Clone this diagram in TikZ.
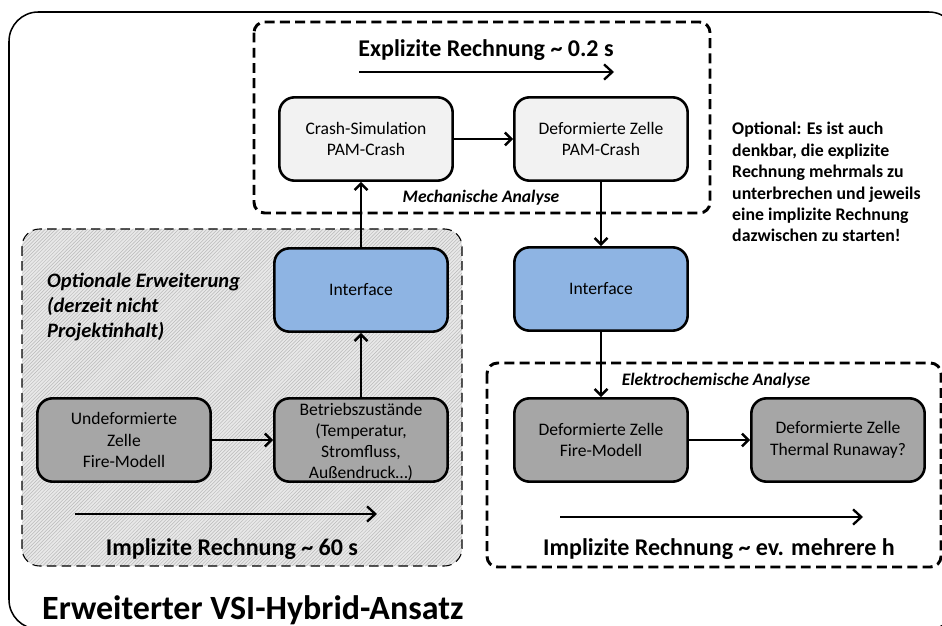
\documentclass[tikz,border=0pt]{standalone}
\usepackage{fontspec}
\setmainfont{Carlito}
\usetikzlibrary{arrows.meta,patterns}

\definecolor{boxlight}{HTML}{F2F2F2}
\definecolor{boxgray}{HTML}{A6A6A6}
\definecolor{boxblue}{HTML}{8EB4E3}
\definecolor{hatchbg}{HTML}{E8E8E8}

\begin{document}
\begin{tikzpicture}[x=0.03cm,y=-0.03cm,
    box/.style={draw,line width=2.2pt,rounded corners=13pt,minimum width=5.2cm,minimum height=2.5cm,
      align=center,font=\fontsize{15}{18.7}\selectfont},
    light/.style={box,fill=boxlight},
    darkbox/.style={box,fill=boxgray},
    iface/.style={box,fill=boxblue},
    flow/.style={-{Straight Barb[length=5.5pt,width=11pt]},line width=2pt},
    timeline/.style={-{Straight Barb[length=7pt,width=13pt]},line width=2pt},
    group/.style={line width=2.5pt,dash pattern=on 8.5pt off 4.5pt,rounded corners=9pt},
    optgroup/.style={line width=0.9pt,dash pattern=on 8pt off 4.5pt,rounded corners=15pt},
    title/.style={font=\bfseries\fontsize{20.5}{24}\selectfont},
    analysis/.style={font=\bfseries\itshape\fontsize{15}{18}\selectfont},
  ]

        \useasboundingbox (0,0) rectangle (942,626);
        \clip (0,0) rectangle (942,626);

        \draw[line width=1.3pt,rounded corners=25pt] (9,12) rectangle (958,629);

        % Gruppen
        \path[optgroup,preaction={fill=hatchbg},pattern=north east lines,pattern color=gray!55] (22,229) rectangle (462,566);
        \draw[optgroup] (22,229) rectangle (462,566);
        \draw[group] (254,22) rectangle (710,213);
        \draw[group] (487,363) rectangle (941,567);

        \node[title] (explizit) at (486,50) {Explizite Rechnung \textasciitilde{} 0.2 s};
        \coordinate (e1) at (359,72);
        \coordinate (e2) at (614,72);
        \draw[timeline] (e1) -- (e2);

        \node[light] (crash) at (366,139) {Crash-Simulation\\PAM-Crash};
        \node[light] (defpam) at (601,139) {Deformierte Zelle\\PAM-Crash};
        \node[analysis] (mech) at (481,198) {Mechanische Analyse};

        \node[anchor=north west,inner sep=0pt,align=left,font=\bfseries\fontsize{15.2}{18.3}\selectfont] (hinweis) at (732,122)
            {Optional: Es ist auch\\denkbar, die explizite\\Rechnung mehrmals zu\\unterbrechen und jeweils\\eine implizite Rechnung\\dazwischen zu starten!};

        \node[anchor=north west,inner sep=0pt,align=left,font=\bfseries\itshape\fontsize{17.5}{21.3}\selectfont] (erweiterung) at (47,273)
            {Optionale Erweiterung\\(derzeit nicht\\Projektinhalt)};

        \node[iface] (ifl) at (361,290) {Interface};
        \node[iface] (ifr) at (601,289) {Interface};

        \node[darkbox] (undef) at (124,440) {Undeformierte\\Zelle\\Fire-Modell};
        \node[darkbox] (betr) at (361,440) {};
        \node[inner sep=0pt,align=center,font=\fontsize{15}{18}\selectfont] (betrtext) at (361,442)
            {Betriebszustände\\(Temperatur,\\Stromfluss,\\Außendruck…)};

        \node[analysis] (elektro) at (716,381) {Elektrochemische Analyse};
        \node[darkbox] (deffire) at (601,440) {Deformierte Zelle\\Fire-Modell};
        \node[darkbox] (runaway) at (838,440) {Deformierte Zelle\\Thermal Runaway?};

        \draw[flow] (crash) -- (defpam);
        \draw[flow] (ifl.north) -- (ifl.north |- crash.south);
        \draw[flow] (betr) -- (ifl);
        \draw[flow] (undef) -- (betr);
        \draw[flow] (defpam) -- (ifr);
        \draw[flow] (ifr) -- (deffire);
        \draw[flow] (deffire) -- (runaway);

        \coordinate (i1) at (75,514);
        \coordinate (i2) at (377,514);
        \draw[timeline] (i1) -- (i2);
        \node[title] (implizit1) at (232,549) {Implizite Rechnung \textasciitilde{} 60 s};

        \coordinate (j1) at (560,517);
        \coordinate (j2) at (863,517);
        \draw[timeline] (j1) -- (j2);
        \node[title] (implizit2) at (719,549) {Implizite Rechnung \textasciitilde{} ev. mehrere h};

        \node[anchor=base west,inner sep=0pt,font=\bfseries\fontsize{29}{34}\selectfont] (ansatz) at (42,619) {Erweiterter VSI-Hybrid-Ansatz};

\end{tikzpicture}
\end{document}
